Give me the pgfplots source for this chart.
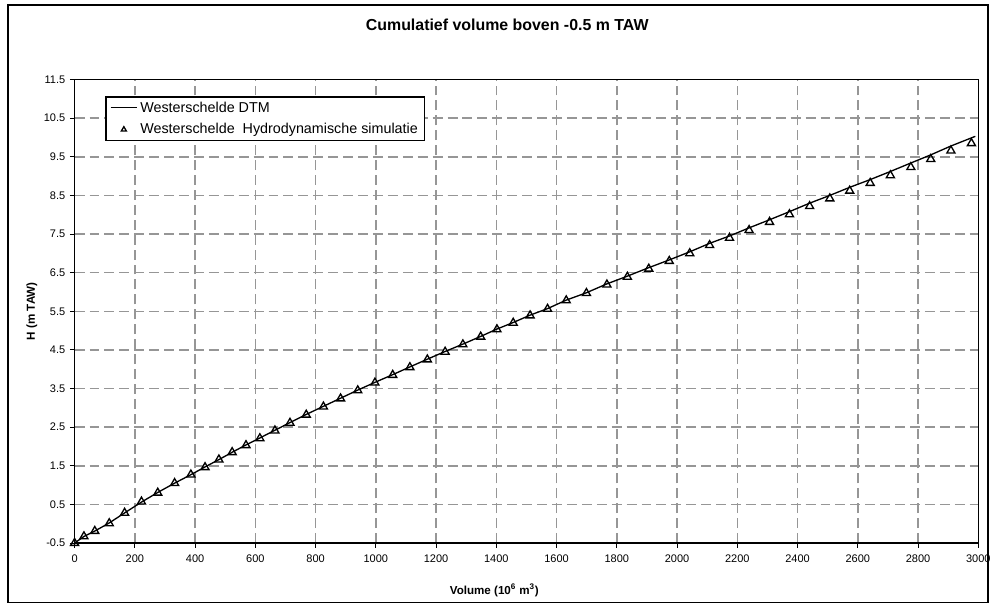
\documentclass[border=0pt]{standalone}
\usepackage{fontspec}
\setmainfont{Liberation Sans}
\usepackage{pgfplots}
\pgfplotsset{compat=1.18}
\definecolor{gridgray}{RGB}{150,150,150}
\begin{document}
\begin{tikzpicture}
\begin{axis}[
  scale only axis,
  width=681.5pt, height=349.5pt,
  xmin=0, xmax=3000, ymin=-0.5, ymax=11.5,
  xtick={0,200,...,3000},
  xticklabels={0,200,400,600,800,1000,1200,1400,1600,1800,2000,2200,2400,2600,2800,3000},
  ytick={-0.5,0.5,...,11.5},
  yticklabels={-0.5,0.5,1.5,2.5,3.5,4.5,5.5,6.5,7.5,8.5,9.5,10.5,11.5},
  tick label style={font=\fontsize{8.3}{9}\selectfont},
  xticklabel style={yshift=-2pt},
  xtick pos=bottom, ytick pos=left,
  tick align=outside, major tick length=3.5pt,
  tick style={black, line width=0.7pt},
  axis line style={black, line width=1pt},
  grid=major,
  major grid style={gridgray, dash pattern=on 7.5pt off 3.75pt, line width=1.2pt},
  xlabel={\bfseries Volume (10\textsuperscript{6} m\textsuperscript{3})},
  ylabel={\bfseries H (m TAW)},
  label style={font=\fontsize{8.75}{10}\selectfont},
  xlabel style={at={(axis description cs:0.4644,-0.103)}, anchor=center},
  ylabel style={at={(axis description cs:-0.0473,0.5)}, anchor=center},
  clip=false,
  legend style={at={(axis description cs:0,1)}, anchor=north west,
    xshift=23.25pt, yshift=-12.75pt, draw=black, line width=1pt,
    font=\fontsize{10.8}{12}\selectfont, row sep=3pt, inner xsep=3pt, inner ysep=1.5pt,
    nodes={inner sep=2pt}},
  legend cell align=left,
]
\addplot[black, line width=1pt,
  legend image code/.code={\draw[black, line width=0.8pt] (0pt,0pt) -- (20pt,0pt);}] coordinates {
(0,-0.5) (31,-0.33) (67,-0.19) (115,0.02) (166,0.28) (222,0.56) (276,0.81) (332,1.05)
(386,1.27) (433,1.47) (479,1.66) (523,1.85) (569,2.04) (615,2.22) (665,2.42) (715,2.62)
(769,2.83) (826,3.04) (883,3.25) (940,3.46) (997,3.66) (1056,3.86) (1113,4.06) (1171,4.26)
(1230,4.46) (1289,4.65) (1348,4.85) (1402,5.04) (1456,5.21) (1512,5.40) (1570,5.57) (1632,5.79)
(1699,5.98) (1767,6.21) (1835,6.41) (1906,6.63) (1974,6.83) (2042,7.04) (2108,7.26) (2174,7.45)
(2239,7.66) (2307,7.87) (2373,8.08) (2440,8.30) (2507,8.50) (2573,8.71) (2641,8.91) (2708,9.12)
(2776,9.34) (2842,9.55) (2909,9.78) (2990,10.03)
};
\addlegendentry{Westerschelde DTM}
\addplot[only marks, mark=triangle, mark size=3.5pt, mark options={black, line width=1pt, fill=white},
  legend image code/.code={\draw[black, line width=0.6pt, mark=triangle, mark size=2.2pt] plot coordinates {(10pt,0pt)};}] coordinates {
(0,-0.5) (31,-0.33) (67,-0.19) (115,0.01) (166,0.28) (222,0.57) (276,0.80) (332,1.05)
(386,1.27) (433,1.46) (479,1.66) (523,1.85) (569,2.03) (615,2.21) (665,2.41) (715,2.61)
(769,2.82) (826,3.03) (883,3.24) (940,3.45) (997,3.65) (1056,3.85) (1113,4.05) (1171,4.25)
(1230,4.45) (1289,4.64) (1348,4.84) (1402,5.03) (1456,5.20) (1512,5.39) (1570,5.56) (1632,5.78)
(1699,5.97) (1767,6.19) (1835,6.39) (1906,6.60) (1974,6.80) (2042,7.00) (2108,7.21) (2174,7.40)
(2239,7.60) (2307,7.81) (2373,8.01) (2440,8.22) (2507,8.42) (2573,8.62) (2641,8.82) (2708,9.02)
(2776,9.23) (2842,9.44) (2909,9.66) (2977,9.85)
};
\addlegendentry{Westerschelde\ \ Hydrodynamische simulatie}
\node[font=\bfseries\fontsize{12}{14}\selectfont] at ([xshift=326.25pt, yshift=41.25pt]rel axis cs:0,1) {Cumulatief volume boven -0.5 m TAW};
\path ([xshift=-56.25pt, yshift=-47.25pt]rel axis cs:0,0) rectangle ([xshift=8.5pt, yshift=60pt]rel axis cs:1,1);
\draw[black, line width=1pt] ([xshift=-50.25pt, yshift=-45pt]rel axis cs:0,0) rectangle ([xshift=7.3pt, yshift=56.25pt]rel axis cs:1,1);
\end{axis}
\end{tikzpicture}
\end{document}
